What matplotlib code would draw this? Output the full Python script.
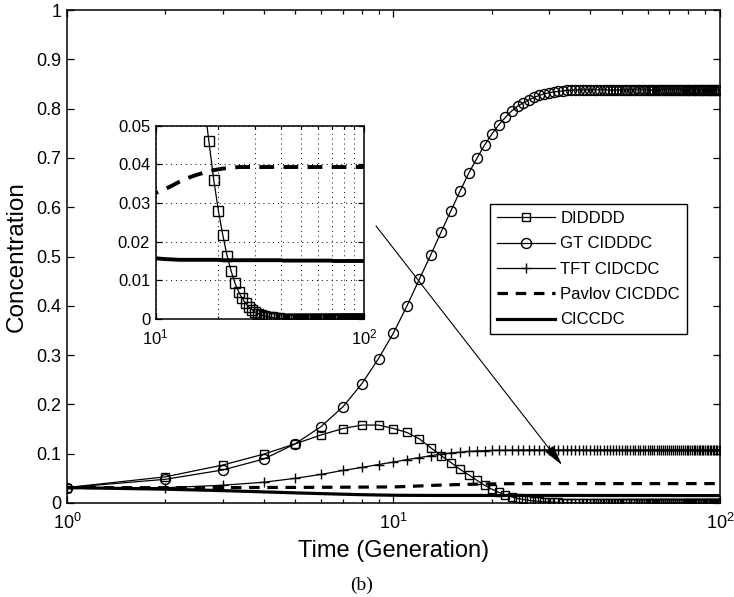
import matplotlib
matplotlib.use("Agg")
import matplotlib.pyplot as plt
from matplotlib import ticker

plt.rcParams['font.family'] = ['Liberation Sans', 'DejaVu Sans']
plt.rcParams['mathtext.fontset'] = 'custom'
plt.rcParams['mathtext.rm'] = 'Liberation Sans'
plt.rcParams['mathtext.it'] = 'Liberation Sans'

generations = list(range(1, 101))

labels = ["DIDDDD", "GT CIDDDC", "TFT CIDCDC", "Pavlov CICDDC", "CICCDC"]

didddd = [0.03125, 0.053, 0.077, 0.099, 0.120, 0.138, 0.151, 0.158, 0.158, 0.151,
          0.143, 0.130, 0.112, 0.096, 0.082, 0.068, 0.057, 0.046, 0.036, 0.028,
          0.0217, 0.0164, 0.0125, 0.0093, 0.0071, 0.0053, 0.0041, 0.0031, 0.0024, 0.0018,
          0.0014, 0.0011, 0.0008, 0.0006, 0.0005, 0.0004, 0.0003, 0.0002, 0.0002, 0.0001,
          0.0001, 0.0001, 0.0001, 0.0001, 0.0001, 0.0001, 0.0001, 0.0001, 0.0001, 0.0001,
          0.0, 0.0, 0.0, 0.0, 0.0, 0.0, 0.0, 0.0, 0.0, 0.0,
          0.0, 0.0, 0.0, 0.0, 0.0, 0.0, 0.0, 0.0, 0.0, 0.0,
          0.0, 0.0, 0.0, 0.0, 0.0, 0.0, 0.0, 0.0, 0.0, 0.0,
          0.0, 0.0, 0.0, 0.0, 0.0, 0.0, 0.0, 0.0, 0.0, 0.0,
          0.0, 0.0, 0.0, 0.0, 0.0, 0.0, 0.0, 0.0, 0.0, 0.0]

gt_cidddc = [0.03125, 0.048, 0.067, 0.089, 0.120, 0.155, 0.195, 0.242, 0.293, 0.345,
             0.400, 0.454, 0.503, 0.550, 0.593, 0.633, 0.669, 0.699, 0.726, 0.748,
             0.767, 0.782, 0.795, 0.805, 0.812, 0.818, 0.823, 0.827, 0.830, 0.832,
             0.834, 0.835, 0.836, 0.837, 0.837, 0.838, 0.838, 0.838, 0.838, 0.838,
             0.838, 0.838, 0.838, 0.838, 0.838, 0.838, 0.838, 0.838, 0.838, 0.838,
             0.838, 0.838, 0.838, 0.838, 0.838, 0.838, 0.838, 0.838, 0.838, 0.838,
             0.838, 0.838, 0.838, 0.838, 0.838, 0.838, 0.838, 0.838, 0.838, 0.838,
             0.838, 0.838, 0.838, 0.838, 0.838, 0.838, 0.838, 0.838, 0.838, 0.838,
             0.838, 0.838, 0.838, 0.838, 0.838, 0.838, 0.838, 0.838, 0.838, 0.838,
             0.838, 0.838, 0.838, 0.838, 0.838, 0.838, 0.838, 0.838, 0.838, 0.838]

tft_cidcdc = [0.03125, 0.031, 0.036, 0.042, 0.050, 0.058, 0.066, 0.072, 0.078, 0.083,
              0.088, 0.092, 0.096, 0.099, 0.1015, 0.103, 0.1045, 0.1055, 0.106, 0.1065,
              0.107, 0.107, 0.1073, 0.1075, 0.1075, 0.1075, 0.1075, 0.1075, 0.1075, 0.1075,
              0.1075, 0.1075, 0.1075, 0.1075, 0.1075, 0.1075, 0.1075, 0.1075, 0.1075, 0.1075,
              0.1075, 0.1075, 0.1075, 0.1075, 0.1075, 0.1075, 0.1075, 0.1075, 0.1075, 0.1075,
              0.1075, 0.1075, 0.1075, 0.1075, 0.1075, 0.1075, 0.1075, 0.1075, 0.1075, 0.1075,
              0.1075, 0.1075, 0.1075, 0.1075, 0.1075, 0.1075, 0.1075, 0.1075, 0.1075, 0.1075,
              0.1075, 0.1075, 0.1075, 0.1075, 0.1075, 0.1075, 0.1075, 0.1075, 0.1075, 0.1075,
              0.1075, 0.1075, 0.1075, 0.1075, 0.1075, 0.1075, 0.1075, 0.1075, 0.1075, 0.1075,
              0.1075, 0.1075, 0.1075, 0.1075, 0.1075, 0.1075, 0.1075, 0.1075, 0.1075, 0.1075]

pavlov_cicddc = [0.03125, 0.0311, 0.0312, 0.0314, 0.0316, 0.0318, 0.0320, 0.0322, 0.0324, 0.0326,
                 0.0335, 0.0345, 0.0355, 0.0363, 0.0369, 0.0374, 0.0378, 0.0382, 0.0385, 0.0387,
                 0.0389, 0.0390, 0.0391, 0.0392, 0.0393, 0.0393, 0.0393, 0.0393, 0.0393, 0.0393,
                 0.0393, 0.0393, 0.0393, 0.0393, 0.0393, 0.0393, 0.0393, 0.0393, 0.0393, 0.0393,
                 0.0393, 0.0393, 0.0393, 0.0393, 0.0393, 0.0393, 0.0393, 0.0393, 0.0393, 0.0393,
                 0.0393, 0.0393, 0.0393, 0.0393, 0.0393, 0.0393, 0.0393, 0.0393, 0.0393, 0.0393,
                 0.0393, 0.0393, 0.0393, 0.0393, 0.0393, 0.0393, 0.0393, 0.0393, 0.0393, 0.0393,
                 0.0393, 0.0393, 0.0393, 0.0393, 0.0393, 0.0393, 0.0393, 0.0393, 0.0393, 0.0393,
                 0.0393, 0.0393, 0.0393, 0.0393, 0.0393, 0.0393, 0.0393, 0.0393, 0.0393, 0.0393,
                 0.0393, 0.0393, 0.0393, 0.0393, 0.0393, 0.0393, 0.0393, 0.0393, 0.0393, 0.0393]

ciccdc = [0.03125, 0.0280, 0.0250, 0.0225, 0.0205, 0.0190, 0.0178, 0.0168, 0.0162, 0.0157,
          0.0155, 0.0154, 0.0153, 0.0153, 0.0153, 0.0153, 0.0153, 0.0153, 0.0153, 0.0153,
          0.0152, 0.0152, 0.0152, 0.0152, 0.0152, 0.0152, 0.0152, 0.0152, 0.0152, 0.0152,
          0.0152, 0.0152, 0.0152, 0.0152, 0.0152, 0.0152, 0.0152, 0.0152, 0.0152, 0.0152,
          0.0151, 0.0151, 0.0151, 0.0151, 0.0151, 0.0151, 0.0151, 0.0151, 0.0151, 0.0151,
          0.0151, 0.0151, 0.0151, 0.0151, 0.0151, 0.0151, 0.0151, 0.0151, 0.0151, 0.0151,
          0.0151, 0.0151, 0.0151, 0.0151, 0.0151, 0.0151, 0.0151, 0.0151, 0.0151, 0.0151,
          0.0150, 0.0150, 0.0150, 0.0150, 0.0150, 0.0150, 0.0150, 0.0150, 0.0150, 0.0150,
          0.0150, 0.0150, 0.0150, 0.0150, 0.0150, 0.0150, 0.0150, 0.0150, 0.0150, 0.0150,
          0.0150, 0.0150, 0.0150, 0.0150, 0.0150, 0.0150, 0.0150, 0.0150, 0.0150, 0.0150]

yticks_main = [0, 0.1, 0.2, 0.3, 0.4, 0.5, 0.6, 0.7, 0.8, 0.9, 1]
yticks_inset = [0, 0.01, 0.02, 0.03, 0.04, 0.05]

fig = plt.figure(figsize=(7.34, 5.97), dpi=100)
ax = fig.add_axes([0.0913, 0.1575, 0.8896, 0.8257])

thin = 0.9
thick = 2.3
dash = (0, (3.3, 2.4))

ax.plot(generations, didddd, color='black', lw=thin, marker='s', ms=6,
        mfc='none', mec='black', mew=1.0, label=labels[0])
ax.plot(generations, gt_cidddc, color='black', lw=thin, marker='o', ms=7.2,
        mfc='none', mec='black', mew=1.0, label=labels[1])
ax.plot(generations, tft_cidcdc, color='black', lw=thin, marker='+', ms=7.5,
        mec='black', mew=1.0, label=labels[2])
ax.plot(generations, pavlov_cicddc, color='black', lw=thick, linestyle=dash,
        label=labels[3])
ax.plot(generations, ciccdc, color='black', lw=thick, label=labels[4])

ax.set_xscale('log')
ax.set_xlim(1, 100)
ax.set_ylim(0, 1)
ax.set_yticks(yticks_main)
ax.yaxis.set_major_formatter(ticker.FuncFormatter(lambda v, p: '%g' % v))
ax.xaxis.set_minor_formatter(ticker.NullFormatter())
ax.tick_params(axis='both', which='both', direction='in', top=True, right=True,
               labelsize=13, width=0.9)
ax.tick_params(axis='both', which='major', length=5)
ax.tick_params(axis='both', which='minor', length=3)
ax.tick_params(axis='x', which='major', pad=7, labelsize=13)
ax.tick_params(axis='y', which='major', pad=4)
for s in ax.spines.values():
    s.set_linewidth(1.1)
ax.set_xlabel('Time (Generation)', fontsize=17, labelpad=5)
ax.set_ylabel('Concentration', fontsize=17.5, labelpad=6)

leg = ax.legend(loc='upper left', bbox_to_anchor=(0.648, 0.6065),
                borderaxespad=0, fontsize=12, frameon=True, fancybox=False,
                edgecolor='black', framealpha=1, handlelength=3.5,
                handletextpad=0.3, labelspacing=0.62, borderpad=0.42)
leg.get_frame().set_linewidth(1.0)

ax.annotate('', xy=(32.8, 0.077), xytext=(8.84, 0.562),
            arrowprops=dict(arrowstyle='-|>,head_length=0.9,head_width=0.22',
                            color='black', lw=0.8, mutation_scale=14,
                            shrinkA=0, shrinkB=0))

ins = fig.add_axes([0.2121, 0.4657, 0.2838, 0.3238])
ins.plot(generations, didddd, color='black', lw=thin, marker='s', ms=6.5,
         mfc='none', mec='black', mew=1.0)
ins.plot(generations, pavlov_cicddc, color='black', lw=2.8, linestyle=(0, (3.8, 2.4)))
ins.plot(generations, ciccdc, color='black', lw=2.8)
ins.set_xscale('log')
ins.set_xlim(10, 100)
ins.set_ylim(0, 0.05)
ins.set_yticks(yticks_inset)
ins.yaxis.set_major_formatter(ticker.FuncFormatter(lambda v, p: '%g' % v))
ins.xaxis.set_minor_formatter(ticker.NullFormatter())
ins.grid(True, which='both', color='black', linestyle=(0, (1, 4)), lw=0.7)
ins.tick_params(axis='both', which='both', direction='in', top=True, right=True,
                labelsize=12, width=0.9)
ins.tick_params(axis='both', which='major', length=4)
ins.tick_params(axis='both', which='minor', length=2.5)
ins.tick_params(axis='x', which='major', pad=6)
ins.tick_params(axis='y', which='major', pad=4)
for s in ins.spines.values():
    s.set_linewidth(1.1)

fig.text(0.493, 0.011, '(b)', fontsize=14, family=['Liberation Serif', 'DejaVu Serif'],
         ha='center', va='baseline')

fig.savefig('out.png', dpi=100)
